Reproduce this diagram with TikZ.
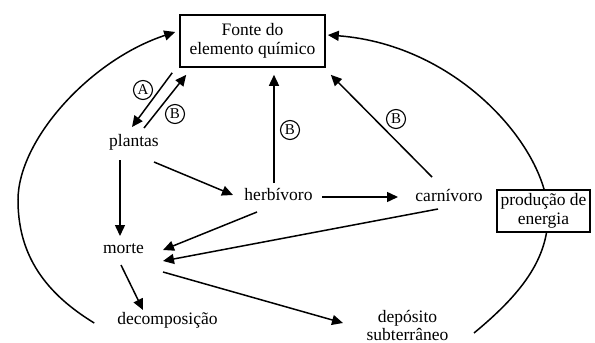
\documentclass[tikz,border=0pt]{standalone}
\usepackage{fontspec}
\setmainfont{Liberation Serif}
\newfontfamily\serifa{Liberation Serif}
\usetikzlibrary{arrows.meta}

\begin{document}
\begin{tikzpicture}[x=1pt,y=-1pt,
  txt/.style={font=\serifa\fontsize{17.5}{18}\selectfont,inner sep=0pt,anchor=base,align=center},
  caixa/.style={draw,line width=1.6pt,fill=white,align=center,inner sep=0pt,font=\serifa\fontsize{17.5}{19}\selectfont},
  seta/.style={line width=1.5pt,-{Triangle[length=11pt,width=10pt]}},
  letra/.style={draw,circle,line width=1.1pt,inner sep=0pt,minimum size=19pt,font=\serifa\fontsize{15}{15}\selectfont}]
\useasboundingbox (0,0) rectangle (595,343);
\node[caixa,minimum width=145pt,minimum height=52pt] (fonte) at (252.5,41) {Fonte do\\elemento químico};
\node[txt] (plantas) at (134,146) {plantas};
\node[txt] (herb) at (278.5,200) {herbívoro};
\node[txt] (carn) at (449,201) {carnívoro};
\node[txt] (morte) at (123.5,253) {morte};
\node[txt] (decomp) at (167.5,324) {decomposição};
\node[txt] (depos) at (407.5,340) {depósito\\subterrâneo};
\draw[seta] ([shift={(-7,5)}]fonte.south west) -- ([shift={(-2,-19)}]plantas.base);
\draw[seta] ([shift={(10,-18)}]plantas.base) -- ([shift={(7,7)}]fonte.south west);
\draw[seta] ([shift={(-14,14)}]plantas.base) -- ([shift={(-3.5,-17)}]morte.base);
\draw[seta] ([shift={(20,16)}]plantas.base) -- ([shift={(-45.5,-5)}]herb.base);
\draw[seta] ([shift={(-4.5,-17)}]herb.base) -- ([shift={(21.5,7)}]fonte.south);
\draw[seta] ([shift={(43.5,-3)}]herb.base) -- ([shift={(-51,-4)}]carn.base);
\draw[seta] ([shift={(-21.5,12)}]herb.base) -- ([shift={(39.5,-3)}]morte.base);
\draw[seta] ([shift={(-11,8)}]carn.base) -- ([shift={(39.5,8)}]morte.base);
\draw[seta] ([shift={(-17,-24)}]carn.base) -- ([shift={(5,7)}]fonte.south east);
\draw[seta] ([shift={(-2.5,12)}]morte.base) -- ([shift={(-24.5,-14)}]decomp.base);
\draw[seta] ([shift={(39.5,19)}]morte.base) -- ([shift={(-64.5,-17)}]depos.base);
\draw[seta] ([shift={(-23,-1)}]decomp.base west) .. controls (40,290) and (18,250) .. (18,200)
  .. controls (18,140) and (90,60) .. ([shift={(-4,-9)}]fonte.west);
\draw[seta] ([shift={(66.5,-7)}]depos.base) .. controls (520,295) and (548,260) .. (548,215)
  .. controls (548,150) and (460,45) .. ([shift={(2,-6)}]fonte.east);
\node[caixa,minimum width=93pt,minimum height=42pt] (energia) at (543.5,211) {produção de\\energia};
\node[letra] (la) at (143,90) {A};
\node[letra] (lb1) at (175,114) {B};
\node[letra] (lb2) at (290,130) {B};
\node[letra] (lb3) at (396,119) {B};
\end{tikzpicture}
\end{document}
